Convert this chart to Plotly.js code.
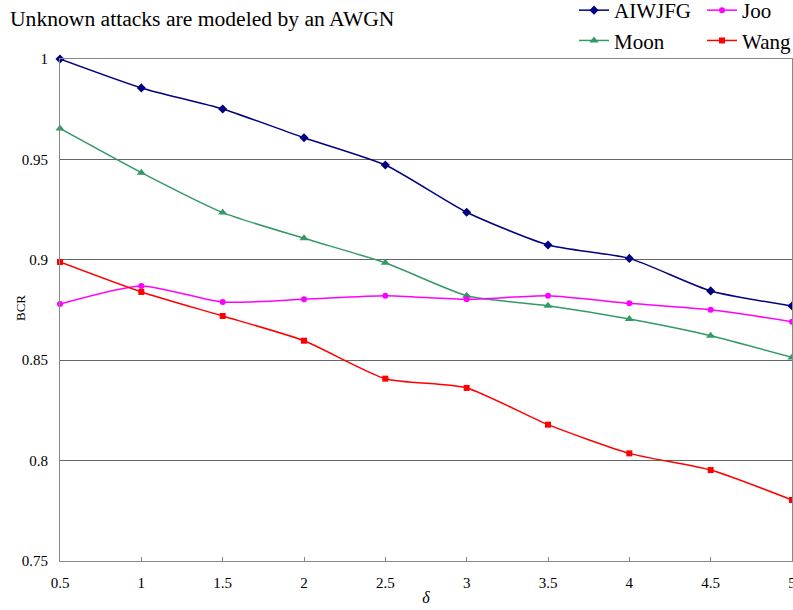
<!DOCTYPE html>
<html>
<head>
<meta charset="utf-8">
<script src="https://cdn.plot.ly/plotly-3.0.1.min.js"></script>
<style>html,body{margin:0;padding:0;background:#fff;}#chart{width:793px;height:610px;}</style>
</head>
<body>
<div id="chart"></div>
<script>
const delta = [0.5, 1, 1.5, 2, 2.5, 3, 3.5, 4, 4.5, 5];
const xTickLabels = ['0.5', '1', '1.5', '2', '2.5', '3', '3.5', '4', '4.5', '5'];
const aiwjfg = [1.000, 0.9856, 0.9751, 0.9608, 0.9472, 0.9237, 0.9074, 0.9007, 0.8845, 0.877];
const joo    = [0.878, 0.887, 0.879, 0.8803, 0.8821, 0.8803, 0.8821, 0.8783, 0.8751, 0.8692];
const moon   = [0.9654, 0.9434, 0.9235, 0.9107, 0.8985, 0.8821, 0.8771, 0.8705, 0.8622, 0.8514];
const wang   = [0.8989, 0.884, 0.872, 0.8597, 0.8408, 0.8362, 0.8179, 0.8036, 0.7953, 0.7804];
const yTicks = [0.75, 0.8, 0.85, 0.9, 0.95, 1];
const yTickLabels = ['0.75', '0.8', '0.85', '0.9', '0.95', '1'];

const serif = '"Liberation Serif", "Times New Roman", Times, serif';
function tr(name, y, color, symbol, size, legend) {
  return {
    x: delta, y: y, name: name, type: 'scatter', mode: 'lines+markers',
    line: {color: color, width: 1.5, shape: 'spline', smoothing: 0.6},
    marker: {color: color, symbol: symbol, size: size},
    legend: legend, legendgroup: name, cliponaxis: false
  };
}
const data = [
  tr('AIWJFG', aiwjfg, '#000080', 'diamond', 7, 'legend'),
  tr('Moon', moon, '#339966', 'triangle-up', 8, 'legend'),
  tr('Joo', joo, '#ff00ff', 'circle', 6, 'legend2'),
  tr('Wang', wang, '#ff0000', 'square', 6, 'legend2')
];
const legendBase = {
  orientation: 'v', yref: 'paper', yanchor: 'top', xanchor: 'left',
  font: {family: serif, size: 21, color: '#000'}, bgcolor: 'rgba(0,0,0,0)',
  tracegroupgap: 0, itemwidth: 30
};
const layout = {
  width: 793, height: 610,
  margin: {l: 60, r: 1, t: 59, b: 49, autoexpand: false},
  paper_bgcolor: '#fff', plot_bgcolor: '#fff',
  showlegend: true,
  title: {text: 'Unknown attacks are modeled by an AWGN', x: 10/793, xref: 'container', xanchor: 'left',
          y: 1 - 18/610, yref: 'container', yanchor: 'middle', font: {family: serif, size: 21.6, color: '#000'}},
  legend: Object.assign({}, legendBase, {x: (574 - 60) / 732, y: 1 + 69 / 502}),
  legend2: Object.assign({}, legendBase, {x: (702 - 60) / 732, y: 1 + 69 / 502}),
  xaxis: {
    range: [0.5, 5], tickmode: 'array', tickvals: delta, ticktext: xTickLabels,
    ticks: 'inside', ticklen: 4, tickcolor: '#888', showgrid: false, zeroline: false,
    showline: true, linecolor: '#888', linewidth: 1, mirror: true,
    ticklabeloverflow: 'allow', ticklabelstandoff: 8,
    tickfont: {family: serif, size: 15, color: '#000'},
    title: {text: '<i>δ</i>', font: {family: serif, size: 16, color: '#000'}, standoff: 1}
  },
  yaxis: {
    range: [0.75, 1], tickmode: 'array', tickvals: yTicks, ticktext: yTickLabels,
    ticks: '', showgrid: true, gridcolor: '#666', gridwidth: 1, zeroline: false,
    showline: true, linecolor: '#888', linewidth: 1, mirror: true,
    ticklabelstandoff: 8,
    tickfont: {family: serif, size: 15, color: '#000'}
  },
  annotations: [{
    text: 'BCR', xref: 'paper', yref: 'paper', x: (20 - 60) / 732, y: (561 - 308) / 502,
    xanchor: 'center', yanchor: 'middle', textangle: -90, showarrow: false,
    font: {family: serif, size: 13, color: '#000'}
  }]
};
Plotly.newPlot('chart', data, layout, {displayModeBar: false, staticPlot: true});
</script>
</body>
</html>
